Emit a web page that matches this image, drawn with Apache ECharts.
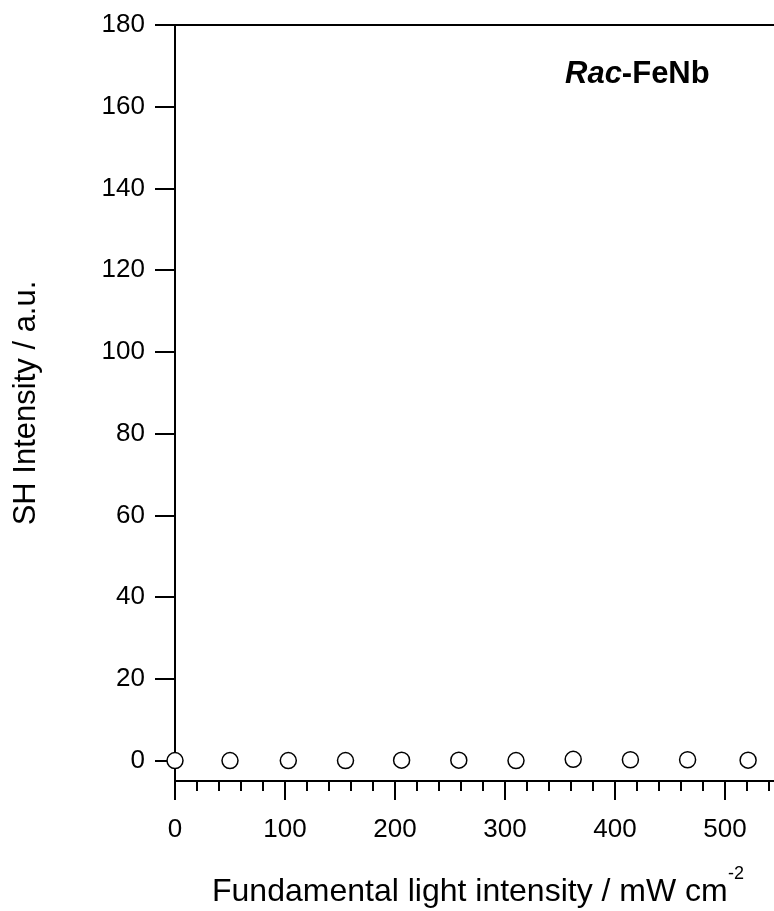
<!DOCTYPE html>
<html>
<head>
<meta charset="utf-8">
<script src="https://cdn.jsdelivr.net/npm/echarts@6/dist/echarts.min.js"></script>
<style>html,body{margin:0;padding:0;background:#fff;}#c{width:774px;height:911px;}</style>
</head>
<body>
<div id="c"></div>
<script>
var xValues = [0, 50, 103, 155, 206, 258, 310, 362, 414, 466, 521];
var yValues = [0, 0, 0, 0, 0.1, 0.1, 0, 0.3, 0.2, 0.2, 0.1];
var yTicks = [0, 20, 40, 60, 80, 100, 120, 140, 160, 180];
var xTitle = 'Fundamental light intensity / mW cm';
var xTitleSup = '-2';
var yTitle = 'SH Intensity / a.u.';
var FONT = '"Liberation Sans", Arial, sans-serif';

var chart = echarts.init(document.getElementById('c'));
var points = xValues.map(function (x, i) { return [x, yValues[i]]; });
var black = '#000';
chart.setOption({
  animation: false,
  backgroundColor: '#fff',
  grid: { left: 175, top: 25, width: 660, height: 756, containLabel: false, outerBoundsMode: 'none' },
  xAxis: [{
    type: 'value', position: 'bottom', min: 0, max: 600, interval: 100,
    axisLine: { show: true, onZero: false, lineStyle: { color: black, width: 2 } },
    axisTick: { show: true, inside: false, length: 19, lineStyle: { color: black, width: 2 } },
    minorTick: { show: true, splitNumber: 5, length: 10, lineStyle: { color: black, width: 2 } },
    axisLabel: { show: true, margin: 36, color: black, fontFamily: FONT, fontSize: 26 },
    splitLine: { show: false }
  }, {
    type: 'value', position: 'top', min: 0, max: 600,
    axisLine: { show: true, onZero: false, lineStyle: { color: black, width: 2 } },
    axisTick: { show: false }, axisLabel: { show: false }, splitLine: { show: false }
  }],
  yAxis: {
    type: 'value', min: -5, max: 180,
    axisLine: { show: true, onZero: false, lineStyle: { color: black, width: 2 } },
    axisTick: { show: true, length: 20, customValues: yTicks, lineStyle: { color: black, width: 2 } },
    axisLabel: { show: true, margin: 30, customValues: yTicks, color: black, fontFamily: FONT, fontSize: 26 },
    splitLine: { show: false }
  },
  series: [{
    type: 'scatter', xAxisIndex: 0, data: points, symbol: 'circle', symbolSize: 16, clip: false, z: 10,
    itemStyle: { color: '#fff', borderColor: black, borderWidth: 1.5, opacity: 1 }
  }],
  graphic: [
    { type: 'text', x: 26, y: 403, rotation: Math.PI / 2,
      style: { text: yTitle, font: '31px ' + FONT, fill: black, textAlign: 'center', textVerticalAlign: 'middle' } },
    { type: 'text', x: 212, y: 892,
      style: { text: xTitle, font: '32px ' + FONT, fill: black, textAlign: 'left', textVerticalAlign: 'middle' } },
    { type: 'text', x: 728, y: 874,
      style: { text: xTitleSup, font: '18px ' + FONT, fill: black, textAlign: 'left', textVerticalAlign: 'middle' } },
    { type: 'text', x: 565, y: 74,
      style: {
        text: '{i|Rac}{b|-FeNb}', fill: black, textAlign: 'left', textVerticalAlign: 'middle',
        rich: {
          i: { fontFamily: FONT, fontSize: 31, fontWeight: 'bold', fontStyle: 'italic', fill: black },
          b: { fontFamily: FONT, fontSize: 31, fontWeight: 'bold', fill: black }
        }
      } }
  ]
});
</script>
</body>
</html>
